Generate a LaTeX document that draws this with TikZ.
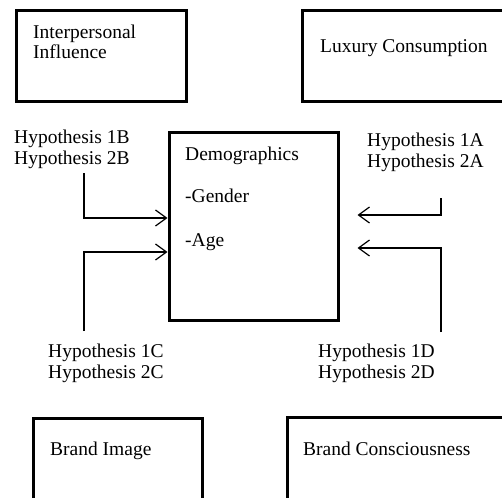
\documentclass[tikz,border=0pt]{standalone}
\usepackage{fontspec}
\setmainfont{Liberation Serif}
\usetikzlibrary{arrows.meta}
\usetikzlibrary{calc}
\tikzset{>={Straight Barb[length=11pt,width=16pt]}}
\tikzset{
    box/.style={draw, line width=3pt, inner sep=0pt},
    lbl/.style={anchor=base west, inner sep=0pt, align=left, font=\fontsize{19.5}{20.5}\selectfont},
    link/.style={line width=1.2pt}
}

\begin{document}
\begin{tikzpicture}[x=1pt,y=-1pt]
    \clip (0,0) rectangle (502,497);

    % Boxes
    \node[box, minimum width=170pt, minimum height=91pt] (infl) at (101,56.5) {};
    \node[box, minimum width=220pt, minimum height=91pt] (lux) at (412,56.5) {};
    \node[box, minimum width=169pt, minimum height=187pt] (demo) at (253.5,226.5) {};
    \node[box, minimum width=169pt, minimum height=100pt] (img) at (117.5,468) {};
    \node[box, minimum width=230pt, minimum height=100pt] (cons) at (402,467) {};

    \coordinate (hb) at (84,173);
    \coordinate (hc) at (84,331);
    \coordinate (ha) at (441,198);
    \coordinate (hd) at (441,332);

    \coordinate (ta) at ($(demo.east)+(18,-11.5)$);
    \coordinate (td) at ($(demo.east)+(18,21.5)$);

    \draw[link,->] (hb) |- ($(demo.west)+(0,-8.5)$);
    \draw[link,->] (hc) |- ($(demo.west)+(0,25.5)$);
    \draw[link,->] (ha) |- (ta);
    \draw[link,->] (hd) |- (td);

    % Labels (two-line nodes sit on their last line)
    \node[lbl] (tinfl) at (33,59) {Interpersonal\\Influence};
    \node[lbl] (tlux) at (320,53) {Luxury Consumption};
    \node[lbl] (tdemo) at (185,160) {Demographics};
    \node[lbl] (tgen) at (185,202) {-Gender};
    \node[lbl] (tage) at (185,246) {-Age};
    \node[lbl] (lb) at (14,164) {Hypothesis 1B\\Hypothesis 2B};
    \node[lbl] (la) at (367,167) {Hypothesis 1A\\Hypothesis 2A};
    \node[lbl] (lc) at (48,378) {Hypothesis 1C\\Hypothesis 2C};
    \node[lbl] (ld) at (318,378) {Hypothesis 1D\\Hypothesis 2D};
    \node[lbl] (timg) at (50,455) {Brand Image};
    \node[lbl] (tcons) at (303,455) {Brand Consciousness};
\end{tikzpicture}
\end{document}
